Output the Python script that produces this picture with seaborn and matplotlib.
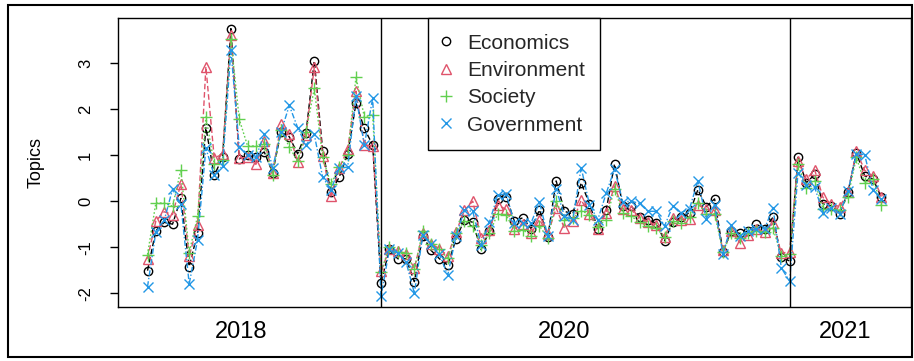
import matplotlib
matplotlib.use("Agg")
import matplotlib.pyplot as plt
from matplotlib.lines import Line2D
from matplotlib.patches import Rectangle
import numpy as np
import pandas as pd
import seaborn as sns

# Standardised topic scores per period
economics = [-1.51, -0.64, -0.46, -0.50, 0.06, -1.42, -0.69, 1.60, 0.56, 0.95,
             3.75, 0.92, 1.00, 0.95, 1.07, 0.62, 1.50, 1.40, 1.03, 1.48,
             3.05, 1.10, 0.19, 0.53, 1.02, 2.13, 1.58, 1.22, -1.77, -1.05,
             -1.25, -1.25, -1.75, -0.75, -1.07, -1.25, -1.39, -0.82, -0.40, -0.46,
             -1.05, -0.65, 0.04, 0.10, -0.44, -0.36, -0.60, -0.19, -0.78, 0.44,
             -0.22, -0.28, 0.40, -0.06, -0.60, -0.20, 0.81, -0.10, -0.10, -0.35,
             -0.40, -0.48, -0.86, -0.45, -0.35, -0.25, 0.25, -0.12, 0.05, -1.10,
             -0.65, -0.70, -0.65, -0.50, -0.60, -0.35, -1.22, -1.30, 0.95, 0.40,
             0.58, -0.06, -0.10, -0.27, 0.20, 1.05, 0.55, 0.48, 0.08]
environment = [-1.25, -0.43, -0.23, -0.29, 0.38, -1.20, -0.52, 2.92, 0.94, 1.02,
               3.62, 0.94, 0.95, 0.80, 1.30, 0.62, 1.67, 1.45, 0.86, 1.43,
               2.92, 0.98, 0.11, 0.72, 1.13, 2.39, 1.22, 1.20, -1.52, -1.05,
               -1.08, -1.14, -1.46, -0.70, -0.93, -1.03, -1.19, -0.67, -0.20, 0.00,
               -0.80, -0.62, -0.08, -0.18, -0.60, -0.50, -0.70, -0.40, -0.72, -0.15,
               -0.59, -0.44, 0.02, -0.27, -0.60, -0.25, 0.33, -0.17, -0.19, -0.36,
               -0.45, -0.51, -0.78, -0.36, -0.40, -0.38, -0.08, -0.18, -0.20, -1.07,
               -0.65, -0.90, -0.74, -0.60, -0.67, -0.48, -1.13, -1.10, 0.88, 0.48,
               0.68, 0.08, -0.06, -0.12, 0.19, 1.09, 0.67, 0.54, 0.10]
society = [-1.16, -0.04, -0.04, -0.11, 0.68, -1.12, -0.33, 1.83, 0.80, 0.89,
           3.52, 1.78, 1.20, 1.20, 1.25, 0.57, 1.55, 1.18, 0.87, 1.50,
           2.45, 0.95, 0.37, 0.75, 1.00, 2.70, 1.83, 1.88, -1.53, -1.00,
           -1.10, -1.13, -1.48, -0.65, -0.92, -1.05, -1.24, -0.70, -0.43, -0.55,
           -0.96, -0.70, -0.27, -0.30, -0.64, -0.62, -0.75, -0.54, -0.80, 0.00,
           -0.40, -0.37, -0.21, -0.29, -0.56, -0.40, 0.27, -0.26, -0.33, -0.45,
           -0.55, -0.58, -0.78, -0.44, -0.48, -0.35, -0.03, -0.28, -0.27, -1.10,
           -0.70, -0.80, -0.70, -0.65, -0.68, -0.58, -1.19, -1.15, 0.80, 0.28,
           0.44, -0.17, -0.16, -0.20, 0.10, 0.95, 0.40, 0.48, -0.08]
government = [-1.86, -0.67, -0.42, 0.26, -0.06, -1.80, -0.84, 1.15, 0.56, 0.77,
              3.28, 1.18, 1.00, 0.95, 1.47, 0.72, 1.50, 2.08, 1.60, 1.22,
              1.45, 0.52, 0.25, 0.72, 0.74, 2.28, 1.22, 2.24, -2.07, -1.05,
              -1.13, -1.32, -2.00, -0.74, -0.94, -1.15, -1.61, -0.75, -0.20, -0.22,
              -0.95, -0.45, 0.13, 0.16, -0.48, -0.47, -0.47, -0.02, -0.76, 0.27,
              -0.33, -0.40, 0.73, -0.08, -0.40, 0.17, 0.70, -0.02, 0.00, -0.05,
              -0.22, -0.22, -0.54, -0.10, -0.25, -0.16, 0.44, -0.38, -0.08, -1.15,
              -0.52, -0.75, -0.65, -0.60, -0.60, -0.14, -1.45, -1.74, 0.62, 0.35,
              0.30, -0.25, -0.15, -0.27, 0.22, 1.03, 1.01, 0.25, 0.05]

series_names = ["Economics", "Environment", "Society", "Government"]
year_labels = ["2018", "2020", "2021"]
year_label_pos = [11.2, 49.9, 83.7]
break_idx = [28, 77]

sns.set_theme(style="white")
plt.rcParams["font.family"] = ["Liberation Sans", "DejaVu Sans"]

period = np.arange(len(economics))
df = pd.DataFrame({"period": period,
                   "Economics": economics,
                   "Environment": environment,
                   "Society": society,
                   "Government": government})
long = df.melt(id_vars="period", var_name="topic", value_name="score")

colors = ["black", "#DF536B", "#61D04F", "#2297E6"]
markers = ["o", "^", "+", "x"]
msizes = [6.0, 7.5, 8.5, 7.0]
styles = [(0, (4, 2)), (0, (4, 2)), (0, (1.2, 1.5)), (0, (4, 1.5, 1, 1.5))]

fig = plt.figure(figsize=(9.14, 3.61), dpi=100)
ax = fig.add_axes([0.129, 0.1496, 0.8677, 0.8004])

for name, c, m, ms, ls in zip(series_names, colors, markers, msizes, styles):
    sub = long[long["topic"] == name]
    sns.lineplot(data=sub, x="period", y="score", ax=ax, color=c,
                 marker=m, markersize=ms, markerfacecolor="none",
                 markeredgecolor=c, markeredgewidth=1.0,
                 linewidth=1.0, linestyle=ls, legend=False)

for b in break_idx:
    ax.axvline(b, color="black", linewidth=1.0)

ax.set_xlim(-3.55, len(economics) - 1 + 3.55)
ax.set_ylim(-2.30, 3.98)

ax.set_yticks([-2, -1, 0, 1, 2, 3])
ax.set_yticklabels(["-2", "-1", "0", "1", "2", "3"], rotation=90,
                   va="center", fontsize=12)
ax.tick_params(axis="y", which="major", left=True, length=6, width=1,
               color="black", pad=12, labelcolor="black")

ax.set_xticks(year_label_pos)
ax.set_xticklabels(year_labels, fontsize=17)
ax.tick_params(axis="x", length=0, pad=10, labelcolor="black")

ax.set_xlabel("")
ax.set_ylabel("Topics", fontsize=13, color="black")
ax.yaxis.set_label_coords(-0.092, 0.5)

for sp in ax.spines.values():
    sp.set_color("black")
    sp.set_linewidth(1.0)

handles = [Line2D([], [], linestyle="none", marker=m, markersize=ms,
                  markerfacecolor="none", markeredgecolor=c, markeredgewidth=1.0)
           for c, m, ms in zip(colors, markers, msizes)]
leg = ax.legend(handles, series_names, loc="upper left",
                bbox_to_anchor=(0.391, 1.0), borderaxespad=0,
                frameon=True, fancybox=False, edgecolor="black",
                fontsize=15, handlelength=0.2, handletextpad=0.92,
                borderpad=0.75, labelspacing=0.4)
leg.get_frame().set_linewidth(1.0)
leg.get_frame().set_alpha(1.0)

fig.add_artist(Rectangle((0.0088, 0.011), 0.9890, 0.975,
                         transform=fig.transFigure, fill=False,
                         edgecolor="black", linewidth=1.5))

fig.savefig("out.png", dpi=100)
